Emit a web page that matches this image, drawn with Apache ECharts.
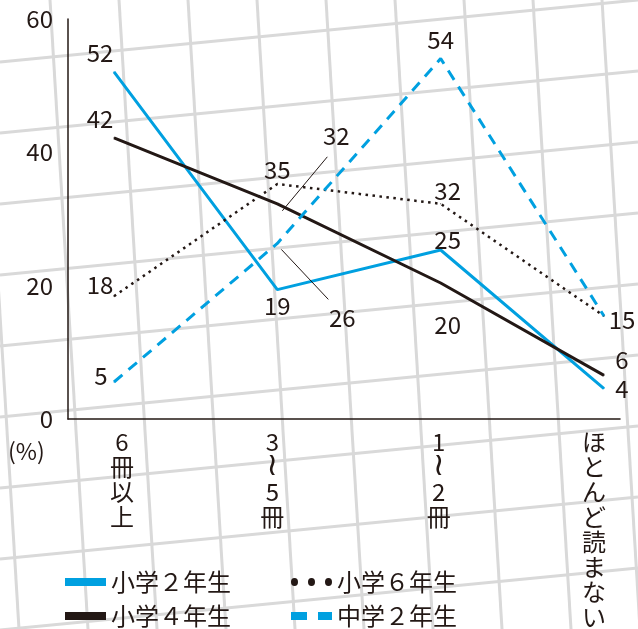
<!DOCTYPE html>
<html>
<head>
<meta charset="utf-8">
<script src="https://cdn.jsdelivr.net/npm/echarts@6/dist/echarts.min.js"></script>
<style>
  html, body { margin: 0; padding: 0; background: #fff; }
  #chart { width: 638px; height: 629px; }
</style>
</head>
<body>
<div id="chart"></div>
<script>
// 1か月に読む本の冊数（%）
const categories = ['6冊以上', '3〜5冊', '1〜2冊', 'ほとんど読まない'];
const names = ['小学２年生', '小学４年生', '小学６年生', '中学２年生'];
const grade2 = [52, 19, 25, 4];
const grade4 = [42, 32, 20, 6];
const grade6 = [18, 35, 32, 15];
const junior2 = [5, 26, 54, 15];
const yMax = 60;
const yStep = 20;

const INK = '#231815';
const BLUE = '#00a0e0';
const FONT = '"Noto Sans CJK JP", "Noto Sans", sans-serif';

// ラベル位置（点からのずれ, px）。null はラベルなし
const labelOffsets = [
  [[-14, -19], [0, 16], [7, -10], [18, 0]],
  [[-14, -19], [59, -68], [7, 42], [18, -16]],
  [[-14, -11], [0, -14], [7, -13], [18, 4]],
  [[-13, -6], [65, 74], [0, -19], null]
];
// 引き出し線（点からのずれ）: [series, index, from, to]
const leaders = [
  [1, 1, [5, 7], [50, -47]],
  [3, 1, [4, 6], [51, 56]]
];
// 縦書き目盛ラベルの横ずれ（px）
const tickShift = [8, -5, -2, -10];

function withLabels(values, offs) {
  return values.map(function (v, i) {
    const o = offs[i];
    if (!o) return { value: v, label: { show: false } };
    return { value: v, label: { show: true, position: 'inside', offset: o } };
  });
}

// 背景の方眼（装飾）
function paperGrid() {
  const els = [];
  const st = { stroke: '#d9d9d9', lineWidth: 3 };
  for (let k = -1; k < 12; k++) {
    const y0 = 62 + 71 * k;
    els.push({ type: 'line', silent: true, z: -10, shape: { x1: 0, y1: y0, x2: 638, y2: y0 - 62 }, style: st });
  }
  for (let k = -1; k < 10; k++) {
    const x0 = 50 + 69 * k;
    els.push({ type: 'line', silent: true, z: -10, shape: { x1: x0, y1: 0, x2: x0 + 38, y2: 629 }, style: st });
  }
  return els;
}

const dots = 'path://M0,3.5a3.5,3.5 0 1,0 7,0a3.5,3.5 0 1,0 -7,0Z M17,3.5a3.5,3.5 0 1,0 7,0a3.5,3.5 0 1,0 -7,0Z M34,3.5a3.5,3.5 0 1,0 7,0a3.5,3.5 0 1,0 -7,0Z';
const dashes = 'path://M0,0h16v7h-16Z M27,0h14v7h-14Z';
const bar = 'path://M0,0h40v7h-40Z';

const label = { color: INK, fontSize: 24, fontFamily: FONT, align: 'center', verticalAlign: 'middle' };

function legendItem(name, left, top, icon, color) {
  return {
    data: [name], left: left, top: top,
    icon: icon, itemWidth: 41, itemHeight: 8, itemGap: 0,
    symbolKeepAspect: false, selectedMode: false,
    itemStyle: { color: color, borderWidth: 0 },
    textStyle: { color: INK, fontSize: 24, fontFamily: FONT }
  };
}

function lineSeries(name, values, offs, color, lineType, width) {
  return {
    type: 'line',
    name: name,
    xAxisIndex: 1,
    yAxisIndex: 1,
    data: withLabels(values, offs),
    symbol: 'circle',
    symbolSize: 1,
    itemStyle: { color: color },
    lineStyle: { color: color, width: width, type: lineType },
    label: label,
    animation: false
  };
}

// 縦書き: 1文字ずつ改行、〜 は縦向きの波線に
function verticalText(v) {
  return v.split('').map(function (c) {
    return c === '〜' ? '{t|≀}' : c;
  }).join('\n');
}

const tickData = categories.map(function (c, i) {
  const s = tickShift[i];
  return { value: c, textStyle: { padding: s > 0 ? [0, 0, 0, 2 * s] : [0, -2 * s, 0, 0] } };
});

const percentText = { type: 'text', left: 8, top: 440, style: { text: '(%)', fill: INK, font: '23px ' + FONT } };

const chart = echarts.init(document.getElementById('chart'));
chart.setOption({
  backgroundColor: '#fff',
  animation: false,
  textStyle: { fontFamily: FONT },
  graphic: paperGrid().concat([percentText]),
  grid: [
    { left: 68, right: 18, top: 19, bottom: 210 },
    { left: 114, right: 34, top: 19, bottom: 210 }
  ],
  xAxis: [
    {
      type: 'value', gridIndex: 0, min: 0, max: 1,
      axisLine: { show: true, lineStyle: { color: INK, width: 1.5 } },
      axisTick: { show: false }, axisLabel: { show: false }, splitLine: { show: false }
    },
    {
      type: 'category', gridIndex: 1, data: tickData, boundaryGap: false,
      axisLine: { show: false }, axisTick: { show: false }, splitLine: { show: false },
      axisLabel: {
        interval: 0, margin: 14, color: INK, fontSize: 24, lineHeight: 25, fontFamily: FONT,
        formatter: verticalText,
        rich: { t: { fontFamily: '"DejaVu Sans"', fontSize: 32, lineHeight: 25, color: INK } }
      }
    }
  ],
  yAxis: [
    {
      type: 'value', gridIndex: 0, min: 0, max: yMax, interval: yStep,
      axisLine: { show: true, lineStyle: { color: INK, width: 1.5 } },
      axisTick: { show: false }, splitLine: { show: false },
      axisLabel: { margin: 15, color: INK, fontSize: 24, fontFamily: FONT }
    },
    {
      type: 'value', gridIndex: 1, min: 0, max: yMax, interval: yStep,
      axisLine: { show: false }, axisTick: { show: false }, splitLine: { show: false },
      axisLabel: { show: false }
    }
  ],
  legend: [
    legendItem(names[0], 60, 565, bar, BLUE),
    legendItem(names[1], 60, 599, bar, INK),
    legendItem(names[2], 286, 565, dots, INK),
    legendItem(names[3], 286, 599, dashes, BLUE)
  ],
  series: [
    lineSeries(names[0], grade2, labelOffsets[0], BLUE, 'solid', 3),
    lineSeries(names[1], grade4, labelOffsets[1], INK, 'solid', 3),
    lineSeries(names[2], grade6, labelOffsets[2], INK, [2.5, 4.5], 2.5),
    lineSeries(names[3], junior2, labelOffsets[3], BLUE, [11, 8], 3)
  ]
});

// 引き出し線をデータ点から描く
const allValues = [grade2, grade4, grade6, junior2];
const leaderEls = leaders.map(function (l) {
  const p = chart.convertToPixel({ gridIndex: 1 }, [l[1], allValues[l[0]][l[1]]]);
  return {
    type: 'line', silent: true, z: 5,
    shape: { x1: p[0] + l[2][0], y1: p[1] + l[2][1], x2: p[0] + l[3][0], y2: p[1] + l[3][1] },
    style: { stroke: INK, lineWidth: 1 }
  };
});
chart.setOption({ graphic: paperGrid().concat([percentText]).concat(leaderEls) });
</script>
</body>
</html>
